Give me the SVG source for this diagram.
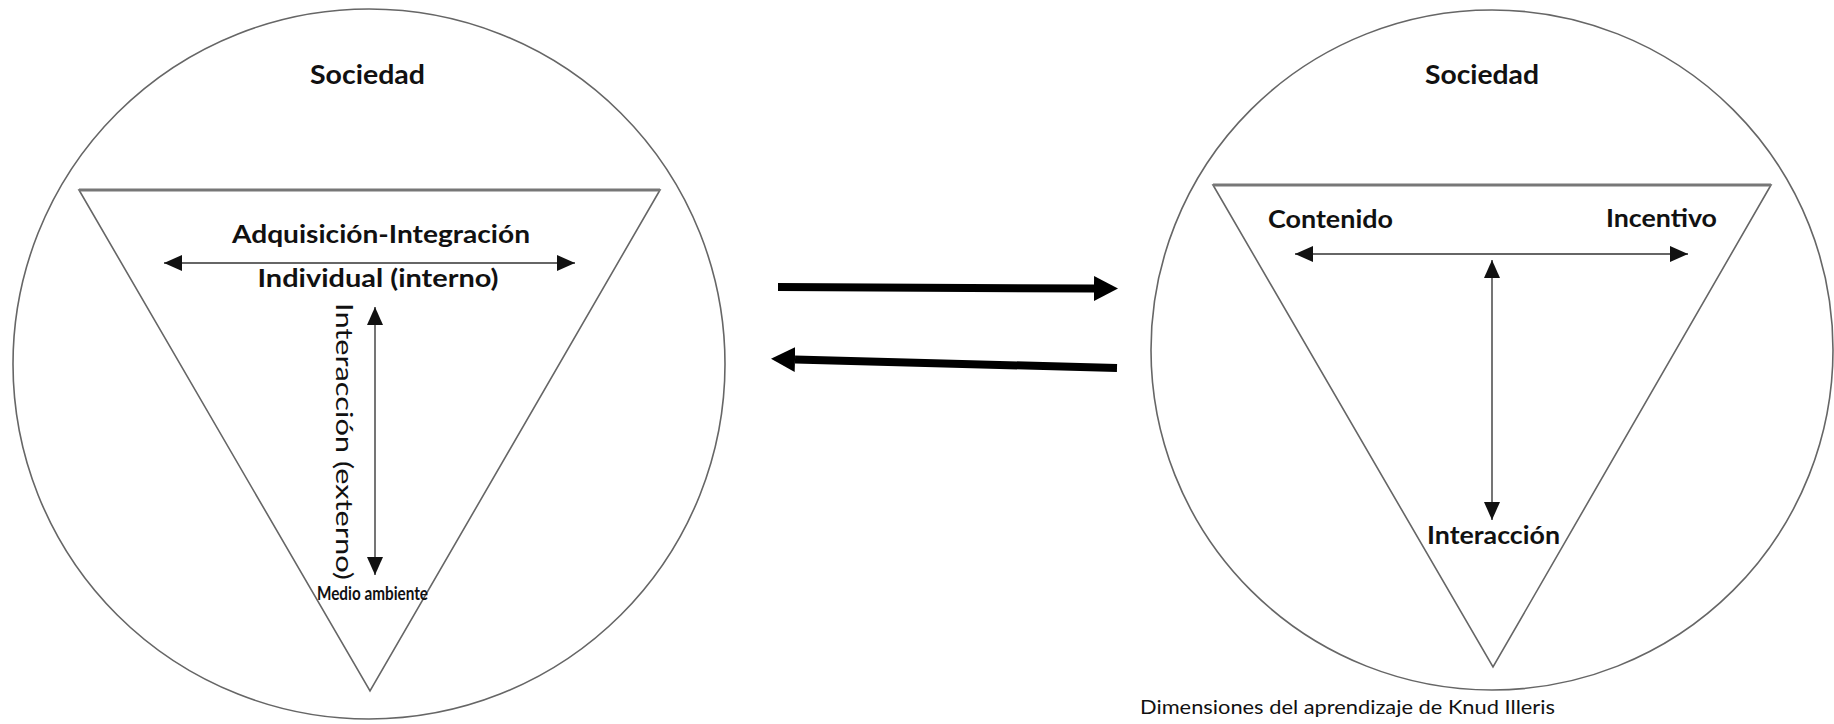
<svg xmlns="http://www.w3.org/2000/svg" width="1834" height="724" viewBox="0 0 1834 724">
<style>
.shape{fill:none;stroke:#666;stroke-width:1.6}
.topedge{stroke:#777;stroke-width:3}
.thin{fill:none;stroke:#666;stroke-width:1.8}
.big{fill:none;stroke:#000;stroke-width:8}
.lbl{font-family:Lato,"Open Sans","Liberation Sans",sans-serif;font-weight:bold;fill:#111}
.reg{font-family:Lato,"Open Sans","Liberation Sans",sans-serif;font-weight:normal;fill:#111}
</style>
<defs>
<marker id="ah" viewBox="0 0 18 16" refX="18" refY="8" markerWidth="18" markerHeight="16" markerUnits="userSpaceOnUse" orient="auto-start-reverse">
<path d="M0,0 L18,8 L0,16 z" fill="#111"/>
</marker>
<marker id="bh" viewBox="0 0 24 25" refX="0" refY="12.5" markerWidth="24" markerHeight="25" markerUnits="userSpaceOnUse" orient="auto">
<path d="M0,0 L24,12.5 L0,25 z" fill="#000"/>
</marker>
</defs>
<rect width="1834" height="724" fill="#fff"/>

<g id="left-model">
<ellipse class="shape" cx="369" cy="364" rx="356" ry="355"/>
<polygon class="shape" points="79,190 660,190 370,691"/>
<line class="topedge" x1="79" y1="190" x2="660" y2="190"/>
</g>
<g id="left-sociedad"><text class="lbl" x="310" y="84" font-size="27" textLength="115" lengthAdjust="spacingAndGlyphs">Sociedad</text></g>
<g id="left-adquisicion"><text class="lbl" x="381" y="243" font-size="24" text-anchor="middle" textLength="298" lengthAdjust="spacingAndGlyphs">Adquisición-Integración</text></g>
<g id="left-individual"><text class="lbl" x="378" y="287" font-size="25" text-anchor="middle" textLength="241" lengthAdjust="spacingAndGlyphs">Individual (interno)</text></g>
<g id="left-interaccion"><text class="reg" transform="translate(336,303) rotate(90)" x="0" y="0" font-size="24" font-weight="600" textLength="277" lengthAdjust="spacingAndGlyphs">Interacción  (externo)</text></g>
<g id="left-medio"><text class="lbl" x="317" y="600" font-size="18" textLength="111" lengthAdjust="spacingAndGlyphs">Medio ambiente</text></g>

<g id="right-model">
<ellipse class="shape" cx="1492" cy="350" rx="341" ry="340"/>
<polygon class="shape" points="1213,185 1771,185 1493,667"/>
<line class="topedge" x1="1213" y1="185" x2="1771" y2="185"/>
</g>
<g id="right-sociedad"><text class="lbl" x="1425" y="84" font-size="27" textLength="114" lengthAdjust="spacingAndGlyphs">Sociedad</text></g>
<g id="right-contenido"><text class="lbl" x="1268" y="228" font-size="24" textLength="125" lengthAdjust="spacingAndGlyphs">Contenido</text></g>
<g id="right-incentivo"><text class="lbl" x="1606" y="227" font-size="24" textLength="111" lengthAdjust="spacingAndGlyphs">Incentivo</text></g>
<g id="right-interaccion"><text class="lbl" x="1427" y="544" font-size="24" textLength="133" lengthAdjust="spacingAndGlyphs">Interacción</text></g>
<g id="caption"><text class="reg" x="1140" y="714" font-size="19" textLength="415" lengthAdjust="spacingAndGlyphs">Dimensiones del aprendizaje de Knud Illeris</text></g>

<g id="connectors">
<line class="thin" x1="164" y1="263" x2="575" y2="263" marker-start="url(#ah)" marker-end="url(#ah)"/>
<line class="thin" x1="375" y1="307" x2="375" y2="575" marker-start="url(#ah)" marker-end="url(#ah)"/>
<line class="thin" x1="1295" y1="254" x2="1688" y2="254" marker-start="url(#ah)" marker-end="url(#ah)"/>
<line class="thin" x1="1492" y1="260" x2="1492" y2="520" marker-start="url(#ah)" marker-end="url(#ah)"/>
<line class="big" x1="778" y1="287" x2="1094" y2="288.5" marker-end="url(#bh)"/>
<line class="big" x1="1117" y1="368" x2="795" y2="359.5" marker-end="url(#bh)"/>
</g>
</svg>
